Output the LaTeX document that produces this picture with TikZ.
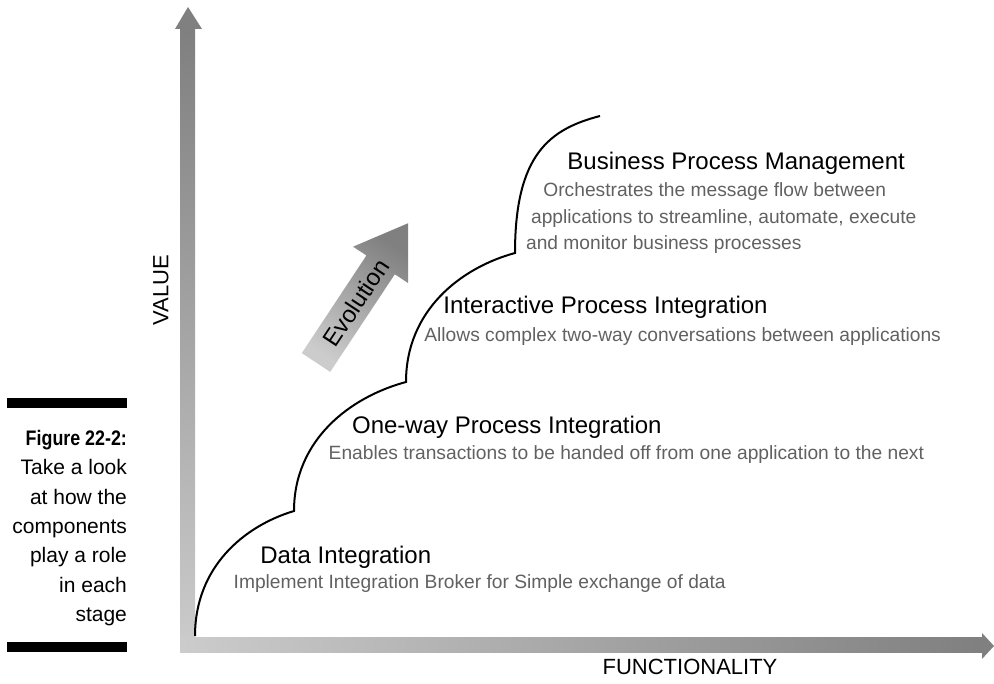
\documentclass[tikz,border=0pt]{standalone}
\usepackage{fontspec}
\setmainfont{Liberation Sans}
\newfontfamily\figfont{Liberation Sans}[FakeStretch=0.85]
\definecolor{axdark}{gray}{0.5}
\definecolor{axlight}{gray}{0.8}
\definecolor{desctext}{gray}{0.38}

\begin{document}
\begin{tikzpicture}[x=0.5pt,y=0.5pt,
  stagetitle/.style={anchor=base west,inner sep=0pt,font=\fontsize{12}{14}\selectfont},
  stagedesc/.style={anchor=base west,inner sep=0pt,text=desctext,font=\fontsize{9.6}{12}\selectfont},
  axlabel/.style={inner sep=0pt,font=\fontsize{11}{13}\selectfont}]
\useasboundingbox (0,0) rectangle (994,684);
% axes
\shade[bottom color=axlight,top color=axdark] (180,31) rectangle (195,655);
\fill[axdark] (175,655) -- (188,677) -- (202,655) -- cycle;
\shade[left color=axlight,right color=axdark] (180,31) rectangle (982,46);
\fill[axdark] (982,25) -- (994,38) -- (982,51) -- cycle;
\node[axlabel,rotate=90] (value) at (161,394) {VALUE};
\node[axlabel] (func) at (690,17) {FUNCTIONALITY};
% stages
\coordinate (s0) at (195,48);
\coordinate (s1) at (294,173);
\coordinate (s2) at (406,302);
\coordinate (s3) at (515,431);
\coordinate (s4) at (600,568);
\draw[line width=1pt] (s0) .. controls +(0,69) and +(-50,-15) .. (s1)
  .. controls +(0,71) and +(-56,-15) .. (s2)
  .. controls +(0,71) and +(-55,-15) .. (s3)
  .. controls +(0,99) and +(-50,-13) .. (s4);
\node[stagetitle] (bpm) at (567,514.7) {Business Process Management};
\node[stagedesc] (bpm1) at (543,487.3) {Orchestrates the message flow between};
\node[stagedesc] (bpm2) at (530.7,460.7) {applications to streamline, automate, execute};
\node[stagedesc] (bpm3) at (525.7,434) {and monitor business processes};
\node[stagetitle] (ipi) at (443,370.7) {Interactive Process Integration};
\node[stagedesc] (ipi1) at (424,342.7) {Allows complex two-way conversations between applications};
\node[stagetitle] (opi) at (351.7,250.7) {One-way Process Integration};
\node[stagedesc] (opi1) at (328.3,224) {Enables transactions to be handed off from one application to the next};
\node[stagetitle] (di) at (260,120.7) {Data Integration};
\node[stagedesc] (di1) at (233.3,95) {Implement Integration Broker for Simple exchange of data};
% evolution arrow
\shade[top color=axdark,bottom color=axlight,shading angle=-33.5]
  (301.8,330.9) -- (330.2,312.1) -- (394.8,409.7) -- (408.1,400.9)
  -- (408.2,460.8) -- (353.1,437.3) -- (366.4,428.5) -- cycle;
\node[rotate=56.5,inner sep=0pt,font=\fontsize{12}{14}\selectfont] (evo) at (356,381) {Evolution};
% caption
\fill (7.3,276.3) rectangle (127.3,286);
\fill (7,31.7) rectangle (127,42.3);
\node[anchor=north east,inner sep=0pt,align=right,font=\fontsize{10.5}{14.65}\selectfont] (cap) at (127.3,254)
  {{\figfont\bfseries Figure 22-2:}\\ Take a look\\ at how the\\ components\\ play a role\\ in each\\ stage};
\end{tikzpicture}
\end{document}
